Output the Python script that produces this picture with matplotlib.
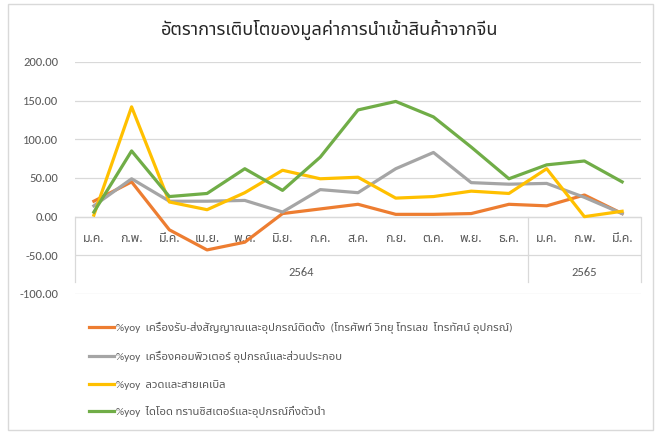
import matplotlib
matplotlib.use("Agg")
import matplotlib.pyplot as plt
from matplotlib.patches import Rectangle

plt.rcParams['font.family'] = ['Carlito', 'Noto Sans Thai', 'DejaVu Sans']

months = ['ม.ค.', 'ก.พ.', 'มี.ค.', 'เม.ย.', 'พ.ค.', 'มิ.ย.', 'ก.ค.', 'ส.ค.',
          'ก.ย.', 'ต.ค.', 'พ.ย.', 'ธ.ค.', 'ม.ค.', 'ก.พ.', 'มี.ค.']
years = ['2564', '2565']
year_sizes = [12, 3]

telecom = [20, 45, -17, -43, -33, 4, 10, 16, 3, 3, 4, 16, 14, 28, 4]
computer = [14, 49, 20, 20, 21, 6, 35, 31, 62, 83, 44, 42, 43, 25, 4]
cable = [2, 142, 19, 9, 31, 60, 49, 51, 24, 26, 33, 30, 62, 0, 7]
diode = [6, 85, 26, 30, 62, 34, 77, 138, 149, 129, 90, 49, 67, 72, 45]

labels = [
    '%yoy  เครื่องรับ-ส่งสัญญาณและอุปกรณ์ติดตั้ง  (โทรศัพท์ วิทยุ โทรเลข  โทรทัศน์ อุปกรณ์)',
    '%yoy  เครื่องคอมพิวเตอร์ อุปกรณ์และส่วนประกอบ',
    '%yoy  ลวดและสายเคเบิล',
    '%yoy  ไดโอด ทรานซิสเตอร์และอุปกรณ์กึ่งตัวนำ',
]
colors = ['#ED7D31', '#A5A5A5', '#FFC000', '#70AD47']

W, H = 658, 434
fig = plt.figure(figsize=(W / 100, H / 100), dpi=100)

# chart border
fig.add_artist(Rectangle((8 / W, 4 / H), 645 / W, 426 / H, transform=fig.transFigure,
                         fill=False, edgecolor='#d9d9d9', linewidth=1))

ax = fig.add_axes([75 / W, 1 - 294 / H, 566 / W, 232 / H])
x = list(range(len(months)))

for series, col, lab in zip([telecom, computer, cable, diode], colors, labels):
    ax.plot(x, series, color=col, linewidth=2.3, label=lab, zorder=3,
            solid_joinstyle='round')

ax.set_xlim(-0.5, len(months) - 0.5)
ax.set_ylim(-100, 200)
ax.set_yticks([-100, -50, 0, 50, 100, 150, 200])
ax.set_yticklabels([f'{v:.2f}' for v in [-100, -50, 0, 50, 100, 150, 200]])
ax.tick_params(axis='y', length=0, pad=12, labelsize=9, labelcolor='#595959')
ax.set_xticks([])
ax.grid(axis='y', color='#d9d9d9', linewidth=0.9)
ax.set_axisbelow(True)
for s in ax.spines.values():
    s.set_visible(False)

# category axis line and group separators
ax.axhline(0, color='#d9d9d9', linewidth=0.9, zorder=2)
bounds = [-0.5]
for n in year_sizes:
    bounds.append(bounds[-1] + n)
for b in bounds:
    ax.plot([b, b], [0, -84], color='#d9d9d9', linewidth=0.9, zorder=2, clip_on=False)

for i, m in enumerate(months):
    ax.text(i, -28, m, ha='center', va='center', fontsize=9, color='#595959', zorder=2)
for j, yr in enumerate(years):
    ax.text((bounds[j] + bounds[j + 1]) / 2, -72, yr, ha='center', va='center',
            fontsize=9, color='#595959')

fig.text(330 / W, 1 - 30 / H, 'อัตราการเติบโตของมูลค่าการนำเข้าสินค้าจากจีน',
         ha='center', va='center', fontsize=13, color='#262626')

fig.legend(loc='upper left', bbox_to_anchor=(79 / W, 1 - 312 / H), frameon=False,
           fontsize=8.2, handlelength=2.2, handletextpad=0.15, labelspacing=1.45,
           labelcolor='#595959')

fig.savefig('out.png', dpi=100)
